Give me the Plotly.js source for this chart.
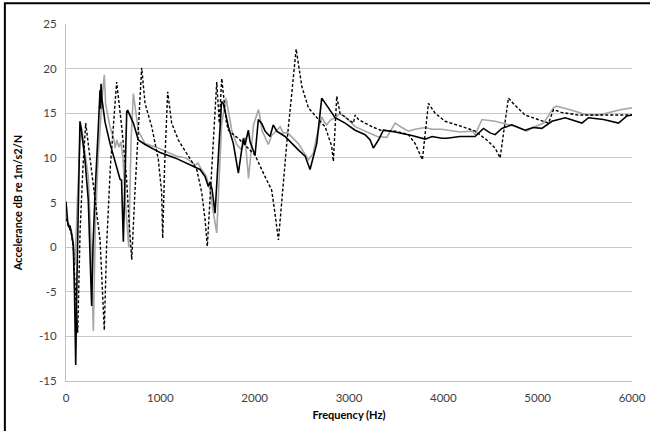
<!DOCTYPE html>
<html>
<head>
<meta charset="utf-8">
<script src="https://cdn.plot.ly/plotly-3.0.1.min.js"></script>
<style>
html,body{margin:0;padding:0;background:#fff;}
#chart{width:650px;height:431px;}
</style>
</head>
<body>
<div id="chart"></div>
<script>
// Series 1: solid black
const freqA = [0,11,21,32,42,58,77,90,103,117,133,148,159,170,201,236,255,272,286,308,343,355,361,366,371,382,414,467,509,555,573,589,608,626,644,655,668,714,767,838,979,997,1156,1280,1368,1421,1474,1509,1527,1548,1580,1612,1633,1649,1668,1721,1774,1827,1880,1898,1933,1951,2004,2039,2078,2110,2163,2197,2234,2322,2463,2535,2587,2658,2711,2764,2853,2959,3065,3171,3224,3258,3312,3365,3489,3666,3754,3807,3881,3984,4037,4178,4337,4425,4496,4549,4620,4726,4867,4952,5045,5151,5292,5469,5539,5698,5857,5946,6000];
const accA  = [5.1,3.0,2.5,2.2,2.4,1.5,0.3,-5,-13.2,-3,8,14.1,13.5,12.6,9.8,5.3,0,-6.6,0,6.1,13.5,17.0,17.6,15.5,18.3,16.5,14.0,11.6,10,8.1,7.6,7.5,0.6,8,15.2,15.3,15.0,13.9,12.0,11.5,10.7,10.6,10.0,9.4,9.0,8.7,7.9,6.8,7.3,6.5,3.8,9.5,13.5,16.3,16.1,13.5,11.6,8.3,12.2,11.5,13.1,11.8,10.3,14.3,13.8,13.0,12.4,13.7,13.0,12.4,10.9,10.2,8.7,11.6,16.7,15.9,14.5,13.9,13.1,12.6,12.0,11.1,12.0,13.1,12.9,12.5,12.3,12.1,12.4,12.2,12.2,12.4,12.4,13.3,12.8,12.6,13.3,13.7,13.1,13.4,13.3,14.1,14.5,13.9,14.5,14.3,13.9,14.7,14.8];

// Series 2: solid grey
const freqB = [0,11,32,58,77,95,120,145,165,177,236,260,290,310,340,385,406,420,467,509,520,540,560,582,605,630,665,690,714,767,838,979,1000,1050,1167,1270,1368,1400,1430,1485,1527,1560,1598,1625,1651,1697,1757,1810,1863,1898,1935,1988,2040,2058,2080,2145,2180,2270,2300,2350,2463,2570,2620,2658,2711,2740,2764,2800,2870,2900,2959,3065,3171,3241,3300,3400,3489,3560,3630,3700,3807,3880,3984,4050,4178,4310,4337,4410,4550,4620,4770,4884,4950,5062,5168,5200,5345,5522,5650,5875,6000];
const accB  = [3.8,3.0,2.5,1.8,0.5,-2.0,5,11,13.3,12.4,7.9,2,-9.4,2,10,17,19.3,16,13.5,12.0,11.1,12.0,11.2,11.8,9.8,5,0.0,12,17.2,13.0,11.6,11.1,11.0,10.7,10.2,10.0,9.2,9.4,8.8,8.0,6.4,4,1.6,8,13.9,16.7,13.1,11.5,10.9,12.3,7.7,13.7,15.4,14.5,13,11.5,12.5,13.5,12.8,12.8,11.6,9.8,10.5,12.4,14.6,14.0,13.7,14.2,14.6,15.0,14.6,13.5,13.0,12.6,12.4,12.3,13.9,13.4,13.0,13.2,13.4,13.2,13.2,13.1,12.9,13.0,12.6,14.3,14.1,13.9,13.5,13.0,13.4,13.9,15.6,15.8,15.4,14.8,14.8,15.4,15.6];

// Series 3: dashed black
const freqC = [0,11,32,58,77,100,124,150,180,209,255,308,361,406,430,470,510,537,590,640,668,697,730,770,802,838,909,979,1014,1025,1045,1078,1120,1191,1315,1386,1439,1474,1498,1550,1598,1625,1651,1700,1721,1845,2004,2110,2180,2215,2252,2340,2393,2440,2500,2570,2676,2747,2817,2834,2870,2905,2994,3047,3065,3100,3242,3335,3489,3630,3701,3778,3842,3913,4019,4125,4200,4337,4461,4549,4602,4690,4750,4867,5045,5115,5168,5250,5430,6000];
const accC  = [3.2,2.8,2.3,1.5,0.0,-5,-9.6,2,9,13.9,9.8,5.3,0.8,-9.3,0,9,15,18.5,13.5,8,3,-1.4,6,14,20.1,16.1,13.5,9.8,6.1,1.0,9,17.4,13.9,12.0,9.8,8.7,6.1,3.1,0.1,10,18.5,13.9,18.9,14,13.1,12.0,10.3,7.9,6.4,3.8,0.8,11.6,17.2,22.2,18.0,15.6,14.3,13.5,11.3,9.6,16.9,15.0,14.3,13.9,14.8,14.3,13.5,13.1,13.0,12.6,11.6,9.8,16.1,15.0,14.1,13.7,13.5,13.0,12.0,11.1,10.0,16.7,16.0,14.8,14.1,13.9,15.4,15.1,14.8,14.8];

const xTicks = [0,1000,2000,3000,4000,5000,6000];
const yTicks = [-15,-10,-5,0,5,10,15,20,25];

const traces = [
  {x: freqB, y: accB, type: 'scatter', mode: 'lines', name: 'Grey',
   line: {color: '#a6a6a6', width: 1.6}},
  {x: freqA, y: accA, type: 'scatter', mode: 'lines', name: 'Black',
   line: {color: '#000000', width: 1.6}},
  {x: freqC, y: accC, type: 'scatter', mode: 'lines', name: 'Dashed',
   line: {color: '#000000', width: 1.4, dash: '3px,2px'}}
];

const fontFam = 'Lato, "Open Sans", "Liberation Sans", sans-serif';

const layout = {
  width: 650, height: 431,
  margin: {l: 66, r: 18, t: 24, b: 50},
  paper_bgcolor: '#ffffff',
  plot_bgcolor: '#ffffff',
  showlegend: false,
  font: {family: fontFam, size: 12, color: '#404040'},
  xaxis: {
    range: [0, 6000], tickvals: xTicks, ticktext: xTicks.map(String),
    showgrid: false, zeroline: false,
    showline: true, linecolor: '#bfbfbf', linewidth: 1,
    ticks: '', ticklen: 0, ticklabelstandoff: 6,
    tickfont: {family: fontFam, size: 11.5, color: '#404040'},
    title: {text: '<b>Frequency (Hz)</b>', font: {family: fontFam, size: 11, color: '#000000'}, standoff: 8}
  },
  yaxis: {
    range: [-15, 25], tickvals: yTicks, ticktext: yTicks.map(String),
    showgrid: true, gridcolor: '#c8c8c8', gridwidth: 1,
    zeroline: false,
    showline: true, linecolor: '#bfbfbf', linewidth: 1,
    ticks: '', ticklen: 0, ticklabelstandoff: 6,
    tickfont: {family: fontFam, size: 11.5, color: '#404040'},
    title: {text: '<b>Accelerance dB re 1m/s2/N</b>', font: {family: fontFam, size: 11, color: '#000000'}, standoff: 14}
  },
  shapes: [
    {type: 'rect', xref: 'paper', yref: 'paper',
     x0: -0.108, x1: 1.2, y0: -0.3, y1: 1.058,
     line: {color: '#000000', width: 2}, fillcolor: 'rgba(0,0,0,0)', layer: 'above'}
  ]
};

Plotly.newPlot('chart', traces, layout, {staticPlot: true, displayModeBar: false});
</script>
</body>
</html>
